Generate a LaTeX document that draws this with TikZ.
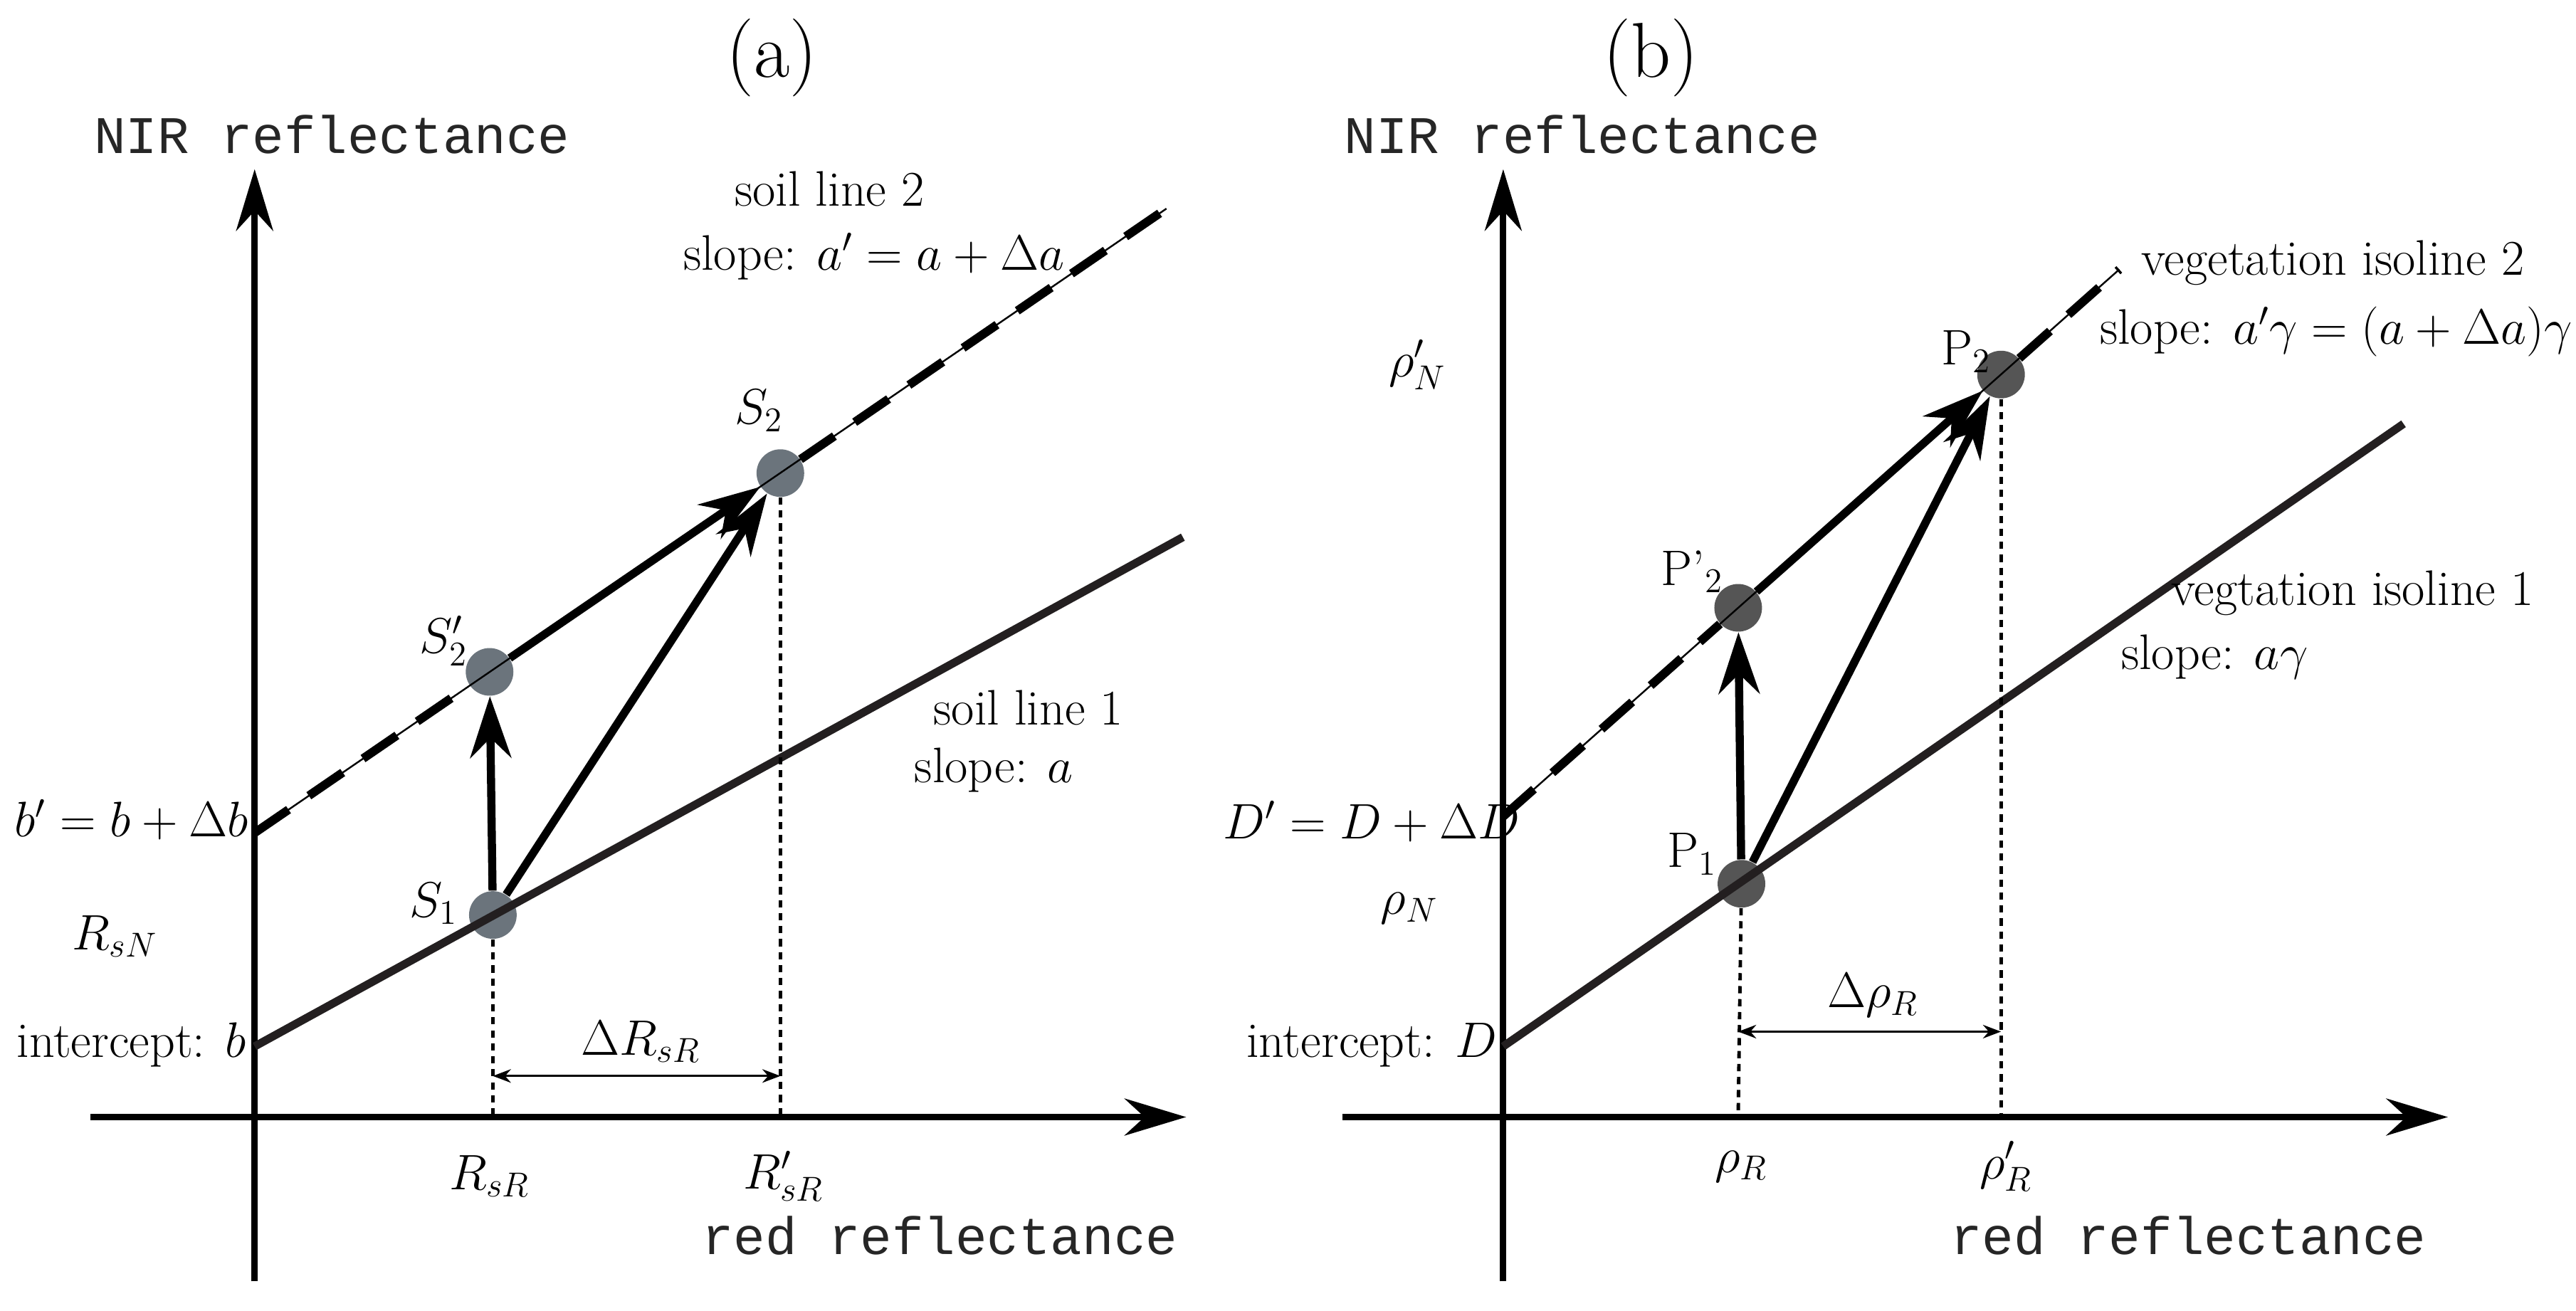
\documentclass[tikz,border=0pt]{standalone}
\usepackage{fontspec}
\newfontfamily\monofnt{Liberation Mono}
\usetikzlibrary{arrows.meta}
\begin{document}
\begin{tikzpicture}[x=0.02cm,y=-0.02cm,
  every node/.style={font=\fontsize{17.3}{21}\selectfont},
  ax/.style={line width=2.2pt,-{Stealth[length=0.75cm,width=0.45cm]}},
  thk/.style={line width=2.8pt,draw={rgb,255:red,35;green,31;blue,32}},
  thn/.style={line width=0.6pt},
  dsh/.style={line width=3pt,dash pattern=on 0.5cm off 0.3cm},
  arr/.style={line width=2.8pt,-{Stealth[length=0.75cm,width=0.5cm]}},
  dot/.style={line width=1.2pt,dash pattern=on 2.5pt off 2pt},
  dim/.style={line width=0.8pt,{Stealth[length=0.22cm]}-{Stealth[length=0.22cm]}},
  pa/.style={circle,fill={rgb,255:red,107;green,116;blue,124},minimum size=0.58cm,inner sep=0},
  pb/.style={circle,fill={rgb,255:red,85;green,85;blue,85},minimum size=0.58cm,inner sep=0},
  tt/.style={font=\fontsize{18.3}{21}\selectfont\monofnt,text=black!85},
  ttl/.style={font=\fontsize{27}{30}\selectfont}]
\useasboundingbox (0,0) rectangle (1568,798);
% ---------- (a)
\node[ttl] (ta) at (470,35) {(a)};
\coordinate (ya0) at (155,780); \coordinate (ya1) at (155,103);
\coordinate (xa0) at (55,680); \coordinate (xa1) at (722,680);
\draw[ax] (ya0) -- (ya1);
\draw[ax] (xa0) -- (xa1);
\coordinate (b1) at (155,637); \coordinate (e1) at (720,327);
\coordinate (b2) at (155,507); \coordinate (e2) at (710,127);
\node[pa] (S1) at (300,557) {};
\node[pa] (S2p) at (298,409) {};
\node[pa] (S2) at (475,288) {};
\draw[thk] (b1) -- (e1);
\draw[thn] (b2) -- (e2);
\draw[dsh] (b2) -- (S2p);
\draw[dsh] (S2) -- (e2);
\coordinate (ra) at (300,680); \coordinate (rpa) at (475,680);
\draw[dot] (S1) -- (ra);
\draw[dot] (S2) -- (rpa);
\draw[arr] (S1) -- (S2p);
\draw[arr] (S1) -- (S2);
\draw[arr] (S2p) -- (S2);
\coordinate (da0) at (300,655); \coordinate (da1) at (475,655);
\draw[dim] (da0) -- (da1);
\node (dra) at (390,634) {$\Delta R_{sR}$};
\node (lra) at (298,716) {$R_{sR}$};
\node (lrpa) at (477,716) {$R'_{sR}$};
\node[tt] (rra) at (572,752) {red reflectance};
\node[tt] (nra) at (202,82) {NIR reflectance};
\node (bp) at (80,499) {$b'=b+\Delta b$};
\node (rsn) at (70,570) {$R_{sN}$};
\node (ib) at (80,636) {intercept: $b$};
\node (ls1) at (264,550) {$S_1$};
\node (ls2p) at (270,390) {$S'_2$};
\node (ls2) at (462,250) {$S_2$};
\node (sl2) at (505,115) {soil line 2};
\node (sl2s) at (532,156) {slope: $a'=a+\Delta a$};
\node (sl1) at (626,431) {soil line 1};
\node (sl1s) at (605,469) {slope: $a$};
% ---------- (b)
\node[ttl] (tb) at (1005,35) {(b)};
\coordinate (yb0) at (915,780); \coordinate (yb1) at (915,103);
\coordinate (xb0) at (817,680); \coordinate (xb1) at (1490,680);
\draw[ax] (yb0) -- (yb1);
\draw[ax] (xb0) -- (xb1);
\coordinate (c1) at (915,637); \coordinate (f1) at (1463,258);
\coordinate (c2) at (915,497); \coordinate (f2) at (1290,164);
\node[pb] (P1) at (1060,538) {};
\node[pb] (P2p) at (1058,370) {};
\node[pb] (P2) at (1218,228) {};
\draw[thk] (c1) -- (f1);
\draw[thn] (c2) -- (f2);
\draw[dsh] (c2) -- (P2p);
\draw[dsh] (P2) -- (f2);
\coordinate (rb) at (1058,680); \coordinate (rpb) at (1218,680);
\draw[dot] (P1) -- (rb);
\draw[dot] (P2) -- (rpb);
\draw[arr] (P1) -- (P2p);
\draw[arr] (P1) -- (P2);
\draw[arr] (P2p) -- (P2);
\coordinate (db0) at (1058,628); \coordinate (db1) at (1218,628);
\draw[dim] (db0) -- (db1);
\node (drb) at (1140,606) {$\Delta\rho_R$};
\node (lrb) at (1060,710) {$\rho_R$};
\node (lrpb) at (1221,710) {$\rho'_R$};
\node[tt] (rrb) at (1332,752) {red reflectance};
\node[tt] (nrb) at (963,82) {NIR reflectance};
\node (rnp) at (863,222) {$\rho'_N$};
\node (dp) at (835,500) {$D'=D+\Delta D$};
\node (rn) at (858,553) {$\rho_N$};
\node (id) at (835,636) {intercept: $D$};
\node (lp1) at (1030,520) {P$_1$};
\node (lp2p) at (1030,348) {P'$_2$};
\node (lp2) at (1197,214) {P$_2$};
\node (vi2) at (1420,160) {vegetation isoline 2};
\node (vi2s) at (1422,202) {slope: $a'\gamma=(a+\Delta a)\gamma$};
\node (vi1) at (1432,361) {vegtation isoline 1};
\node (vi1s) at (1348,400) {slope: $a\gamma$};
\end{tikzpicture}
\end{document}
